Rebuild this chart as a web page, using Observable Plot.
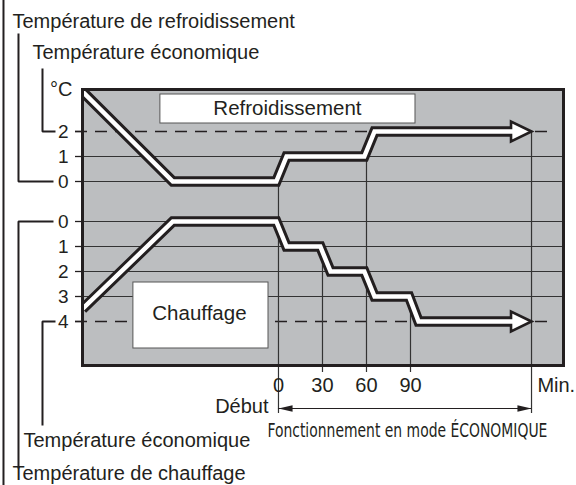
<!DOCTYPE html>
<html><head><meta charset="utf-8">
<script src="https://cdn.jsdelivr.net/npm/d3@7"></script>
<script src="https://cdn.jsdelivr.net/npm/@observablehq/plot@0.6"></script>
<style>body{margin:0;background:#fff}#chart{width:576px;height:485px}</style>
</head><body><div id="chart"></div>
<script>
// ---------- data ----------
const coolLevels = [0, 1, 2];             // offset °C, cooling scale
const heatLevels = [0, 1, 2, 3, 4];       // offset °C, heating scale
const coolEco = 2;                        // dashed: economy setpoint (cooling)
const heatEco = 4;                        // dashed: economy setpoint (heating)
const timeTicks = [0, 30, 60, 90];        // minutes
const timeTickLabels = ["0", "30", "60", "90"];
const timeEnd = 172.5;                    // "Min." end of economy mode
const coolTimes  = [-133.6, -72, -1.5, 5.5, 58.5, 65.5, 172.5];
const coolValues = [3.6, 0, 0, 1, 1, 2, 2];
const heatTimes  = [-133.6, -72, -1.5, 5.5, 28.5, 35.5, 58.5, 65.5, 89, 95.5, 172.5];
const heatValues = [3.5, 0, 0, 1, 1, 2, 2, 3, 3, 4, 4];
// vertical marker lines: time, and the level (scale, value) where they start
const markerTimes  = [0, 30, 60, 90, 172.5];
const markerScale  = ["cool", "heat", "cool", "heat", "cool"];
const markerLevel  = [0, 1, 1, 3, 2];

// ---------- layout ----------
const W = 576, H = 485;
const xDomain = [-133.6, 194.3];
const yDomain = [-7.36, 3.68];
const uCool = t => t;
const uHeat = h => -1.6 - h;
const uOf = (s, v) => s === "cool" ? uCool(v) : uHeat(v);
const minPerPx = 30 / 44;
const fromLeft = px => xDomain[0] - px * minPerPx;   // px left of frame
const gray = "#bcbec0", ink = "#231f20", gridC = "#333";
const font = "Liberation Sans, Arial, Helvetica, sans-serif";
const ecoText = "Fonctionnement en mode ÉCONOMIQUE";

const coolPath = coolTimes.map((t, i) => ({t, u: uCool(coolValues[i])}));
const heatPath = heatTimes.map((t, i) => ({t, u: uHeat(heatValues[i])}));
const shaft = p => p.map((d, i) => i === p.length - 1 ? {t: d.t - 9, u: d.u} : d);
const heads = [coolPath[coolPath.length - 1], heatPath[heatPath.length - 1]];

const yTicks = [
  ...coolLevels.map(v => ({u: uCool(v), label: String(v), dashed: v === coolEco})),
  ...heatLevels.map(v => ({u: uHeat(v), label: String(v), dashed: v === heatEco}))
];
const markers = markerTimes.map((t, i) => ({
  t, top: uOf(markerScale[i], markerLevel[i]),
  bottom: (i === 0 || i === markerTimes.length - 1) ? -9.28 : -7.64
}));

const arrowSym = (dir, k) => ({
  draw(ctx, size) {
    const r = Math.sqrt(size / Math.PI);
    ctx.moveTo(0, 0);
    ctx.lineTo(-dir * k * r, -r);
    ctx.lineTo(-dir * k * r, r);
    ctx.closePath();
  }
});

const leaders = [
  [{t: fromLeft(64), u: 5.92}, {t: fromLeft(64), u: uCool(0)}, {t: fromLeft(29), u: uCool(0)}],
  [{t: fromLeft(40), u: 4.52}, {t: fromLeft(40), u: uCool(coolEco)}, {t: fromLeft(27), u: uCool(coolEco)}],
  [{t: fromLeft(64), u: -11.48}, {t: fromLeft(64), u: uHeat(0)}, {t: fromLeft(29), u: uHeat(0)}],
  [{t: fromLeft(40), u: -9.76}, {t: fromLeft(40), u: uHeat(heatEco)}, {t: fromLeft(27), u: uHeat(heatEco)}],
  [{t: fromLeft(79), u: 7.3}, {t: fromLeft(79), u: -12.2}]
];

const startLabels = [
  {t: fromLeft(70), u: 6.4, text: "Température de refroidissement"},
  {t: fromLeft(50), u: 5.14, text: "Température économique"},
  {t: fromLeft(59), u: -10.38, text: "Température économique"},
  {t: fromLeft(70), u: -11.7, text: "Température de chauffage"},
  {t: timeEnd + 4, u: -8.18, text: "Min."}
];
const endLabels = [
  {t: fromLeft(10), u: 3.66, text: "°C"},
  {t: -6.8, u: -9.02, text: "Début"}
];

const boxes = [
  {x1: -80.5, x2: 93.4, y1: 3.48, y2: 2.32, text: "Refroidissement", tx: 6.1, ty: 2.94},
  {x1: -98.9, x2: -6.8, y1: -4.04, y2: -6.68, text: "Chauffage", tx: -53.9, ty: -5.28}
];

const plot = Plot.plot({
  width: W, height: H,
  marginLeft: 82, marginRight: 13, marginTop: 89, marginBottom: 120,
  x: {domain: xDomain, axis: null},
  y: {domain: yDomain, axis: null},
  style: {fontFamily: font, color: ink, background: "white", overflow: "visible"},
  marks: [
    Plot.frame({fill: gray, stroke: "none"}),
    Plot.ruleY(yTicks.filter(d => !d.dashed), {y: "u", stroke: gridC, strokeWidth: 1.2}),
    Plot.ruleY(yTicks, {y: "u", x1: fromLeft(7), x2: xDomain[0], stroke: ink, strokeWidth: 1.3}),
    Plot.ruleY(yTicks.filter(d => d.dashed), {y: "u", x1: fromLeft(7), x2: xDomain[1] - 6.5,
      stroke: ink, strokeWidth: 1.3, strokeDasharray: "12,8"}),
    Plot.ruleX(markers, {x: "t", y1: "top", y2: "bottom", stroke: gridC, strokeWidth: 1.2}),
    Plot.rect(boxes, {x1: "x1", x2: "x2", y1: "y1", y2: "y2", fill: "white", stroke: "#555", strokeWidth: 1}),
    Plot.text(boxes, {x: "tx", y: "ty", text: "text", fontSize: 20.5, fill: ink}),
    // thick double lines
    ...[coolPath, heatPath].map(p => Plot.line(shaft(p), {x: "t", y: "u", stroke: ink, strokeWidth: 10.5,
      strokeLinejoin: "miter", strokeMiterlimit: 4, strokeLinecap: "butt", clip: true})),
    Plot.dot(heads, {x: "t", y: "u", r: 10, symbol: arrowSym(1, 2.05), fill: "white", stroke: ink,
      strokeWidth: 2.6, strokeLinejoin: "miter"}),
    ...[coolPath, heatPath].map(p => Plot.line(shaft(p), {x: "t", y: "u", stroke: "white", strokeWidth: 4.5,
      strokeLinejoin: "miter", strokeMiterlimit: 4, strokeLinecap: "butt", clip: true})),
    Plot.frame({stroke: ink, strokeWidth: 3}),
    // axis labels
    Plot.text(yTicks, {x: xDomain[0], y: "u", text: "label", dx: -14, textAnchor: "end", fontSize: 19, fill: ink}),
    Plot.text(timeTicks, {x: d => d, y: -8.18, text: (d, i) => timeTickLabels[i], fontSize: 20, fill: ink}),
    // leaders
    ...leaders.map(l => Plot.line(l, {x: "t", y: "u", stroke: ink, strokeWidth: 2, strokeLinejoin: "miter", strokeLinecap: "butt"})),
    Plot.text(startLabels, {x: "t", y: "u", text: "text", textAnchor: "start", fontSize: 20, fill: ink}),
    Plot.text(endLabels, {x: "t", y: "u", text: "text", textAnchor: "end", fontSize: 20, fill: ink}),
    // economy mode span
    Plot.ruleY([-9.08], {x1: 0, x2: timeEnd, stroke: ink, strokeWidth: 1.2}),
    Plot.dot([{t: 0, u: -9.08}], {x: "t", y: "u", r: 3.2, symbol: arrowSym(-1, 4.4), fill: ink, stroke: "none"}),
    Plot.dot([{t: timeEnd, u: -9.08}], {x: "t", y: "u", r: 3.2, symbol: arrowSym(1, 4.4), fill: ink, stroke: "none"}),
    Plot.text([ecoText], {x: -7.5, y: -9.95, text: d => d, textAnchor: "start",
      fontSize: 20, fill: ink, fontFamily: "Liberation Sans Narrow, DejaVu Sans Condensed, Arial, sans-serif"})
  ]
});
document.getElementById("chart").appendChild(plot);
// condense the economy-mode caption horizontally to its width in the reference (280px)
plot.querySelectorAll("text").forEach(t => {
  if (t.textContent === ecoText) {
    const len = t.getComputedTextLength();
    if (len > 0) {
      const k = 280 / len;
      t.setAttribute("transform", (t.getAttribute("transform") || "") + ` scale(${k},1)`);
    }
  }
});
</script></body></html>
